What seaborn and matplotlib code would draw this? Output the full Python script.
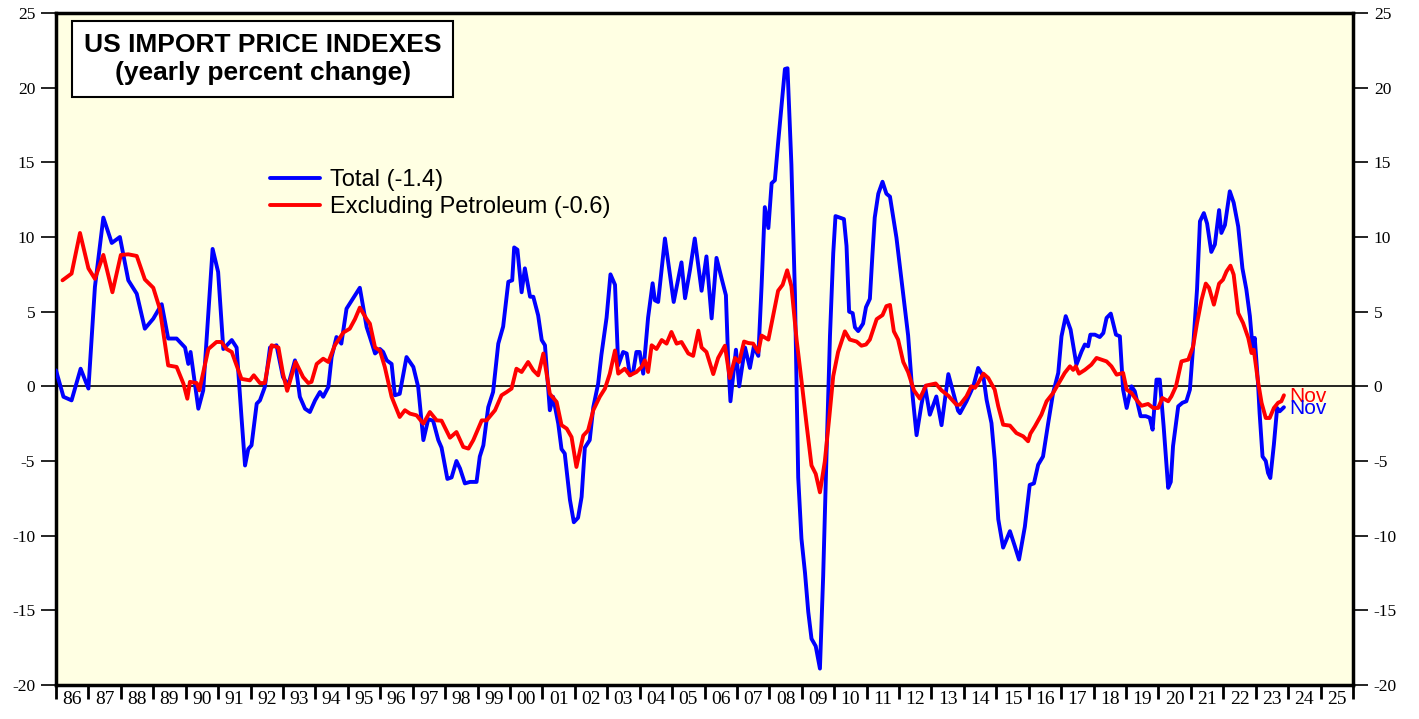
"""
plot.py - US import price indexes, yearly percent change.
"""

import numpy as np
import pandas as pd
import matplotlib

matplotlib.use("Agg")  # non-interactive backend
import matplotlib.pyplot as plt
import seaborn as sns

# ─────────────────────────────────────────────────────────────────────────────
# Data (decimal years)
# ─────────────────────────────────────────────────────────────────────────────

total_x = [
    1986.0, 1986.23, 1986.48, 1986.76, 1987.0, 1987.2, 1987.46, 1987.72, 1987.97,
    1988.23, 1988.49, 1988.74, 1989.0, 1989.26, 1989.46, 1989.72, 1989.98, 1990.08,
    1990.15, 1990.39, 1990.54, 1990.83, 1991.0, 1991.16, 1991.42, 1991.57, 1991.72,
    1991.83, 1991.93, 1992.03, 1992.19, 1992.29, 1992.44, 1992.6, 1992.8, 1993.0,
    1993.16, 1993.37, 1993.52, 1993.68, 1993.83, 1993.99, 1994.14, 1994.24, 1994.4,
    1994.5, 1994.65, 1994.8, 1994.96, 1995.37, 1995.58, 1995.68,
    1995.84, 1995.99, 1996.09, 1996.2, 1996.35, 1996.45, 1996.6, 1996.81, 1997.02,
    1997.17, 1997.33, 1997.48, 1997.63, 1997.79, 1997.89, 1998.07, 1998.2, 1998.35,
    1998.46, 1998.61, 1998.77, 1998.97, 1999.07, 1999.18, 1999.33, 1999.48, 1999.64,
    1999.79, 1999.95, 2000.07, 2000.13, 2000.23, 2000.36, 2000.46, 2000.62, 2000.72,
    2000.87, 2000.98, 2001.08, 2001.23, 2001.33, 2001.49, 2001.59, 2001.69, 2001.85,
    2001.97, 2002.1, 2002.21, 2002.31, 2002.46, 2002.57, 2002.72, 2002.82, 2002.98,
    2003.1, 2003.24, 2003.34, 2003.49, 2003.6, 2003.7, 2003.8, 2003.9, 2004.0,
    2004.11, 2004.26, 2004.4, 2004.47, 2004.57, 2004.78, 2005.05, 2005.29, 2005.4,
    2005.55, 2005.7, 2005.91, 2006.06, 2006.22, 2006.37, 2006.53, 2006.66, 2006.73,
    2006.8, 2006.97, 2007.07, 2007.25, 2007.4, 2007.52, 2007.66, 2007.76, 2007.86,
    2007.97, 2008.07, 2008.17, 2008.27, 2008.38, 2008.48, 2008.56, 2008.68, 2008.79,
    2008.89, 2008.99, 2009.1, 2009.2, 2009.3, 2009.43, 2009.56, 2009.66, 2009.76,
    2009.87, 2009.97, 2010.04, 2010.17, 2010.3, 2010.38, 2010.46, 2010.57, 2010.64,
    2010.74, 2010.89, 2010.98, 2011.1, 2011.18, 2011.25, 2011.36, 2011.49, 2011.61,
    2011.72, 2011.92, 2012.13, 2012.28, 2012.42, 2012.54, 2012.69, 2012.8, 2012.95,
    2013.15, 2013.31, 2013.52, 2013.67, 2013.82,
    2013.88, 2014.08, 2014.29, 2014.44, 2014.6, 2014.7, 2014.85, 2014.95, 2015.06,
    2015.21, 2015.42, 2015.57, 2015.7, 2015.88, 2016.03, 2016.16, 2016.29, 2016.44,
    2016.6, 2016.75, 2016.91, 2017.01, 2017.14, 2017.29, 2017.47, 2017.63, 2017.73,
    2017.83, 2017.9, 2018.04, 2018.19, 2018.3, 2018.4, 2018.53, 2018.69, 2018.81,
    2018.91, 2019.02, 2019.17, 2019.27, 2019.45, 2019.61, 2019.73, 2019.82, 2019.94,
    2020.04, 2020.16, 2020.3, 2020.38, 2020.45, 2020.61, 2020.74, 2020.86, 2020.97,
    2021.07, 2021.19, 2021.28, 2021.4, 2021.5, 2021.63, 2021.74, 2021.87, 2021.94,
    2022.05, 2022.2, 2022.32, 2022.46, 2022.59, 2022.71, 2022.82, 2022.9, 2022.97,
    2023.07, 2023.12, 2023.21, 2023.31, 2023.38, 2023.45, 2023.56, 2023.66, 2023.74,
    2023.87,
]
total_y = [
    1.07, -0.7, -0.94, 1.18, -0.15, 6.65, 11.3, 9.6, 10.0,
    7.1, 6.2, 3.86, 4.53, 5.5, 3.2, 3.2, 2.6, 1.5,
    2.3, -1.5, -0.27, 9.2, 7.66, 2.5, 3.1, 2.6, -2.05,
    -5.3, -4.2, -3.95, -1.16, -0.94, -0.05, 2.6, 2.75, 0.62,
    0.07, 1.74, -0.7, -1.5, -1.72, -0.94, -0.38, -0.7, -0.04,
    1.96, 3.3, 2.86, 5.2, 6.6, 3.97, 3.3,
    2.2, 2.5, 2.3, 1.74, 1.5, -0.6, -0.5, 1.96, 1.3,
    -0.04, -3.6, -2.2, -2.3, -3.6, -4.1, -6.2, -6.1, -5.0,
    -5.5, -6.5, -6.4, -6.4, -4.7, -3.95, -1.4, -0.38, 2.86,
    4.0, 7.0, 7.1, 9.3, 9.15, 6.3, 7.9, 6.0, 6.0,
    4.75, 3.1, 2.75, -1.6, -0.7, -2.5, -4.2, -4.5, -7.6,
    -9.1, -8.8, -7.4, -4.1, -3.6, -1.4, 0.18, 2.1, 4.6,
    7.5, 6.8, 1.4, 2.3, 2.2, 0.74, 0.96, 2.3, 2.3,
    0.85, 4.6, 6.9, 5.76, 5.65, 9.9, 5.65, 8.3, 5.9,
    7.77, 9.9, 6.4, 8.7, 4.55, 8.6, 7.2, 6.1, 1.77,
    -1.0, 2.45, 0.0, 2.6, 1.23, 2.65, 2.04, 6.7, 12.0,
    10.6, 13.6, 13.8, 16.3, 18.9, 21.25, 21.3, 14.85, 6.1,
    -6.1, -10.2, -12.5, -15.1, -16.9, -17.4, -18.9, -12.7, -4.8,
    3.4, 8.9, 11.4, 11.3, 11.2, 9.4, 5.0, 4.9, 3.95,
    3.7, 4.2, 5.3, 5.86, 8.86, 11.3, 12.9, 13.7, 12.9,
    12.7, 9.95, 6.1, 3.4, -0.68, -3.27, -1.23, 0.0, -1.9,
    -0.68, -2.6, 0.82, -0.4, -1.63,
    -1.8, -1.0, 0.0, 1.23, 0.67, -0.9, -2.46, -4.9, -8.9,
    -10.8, -9.7, -10.7, -11.6, -9.4, -6.6, -6.5, -5.25, -4.7,
    -2.46, -0.45, 0.9, 3.35, 4.7, 3.8, 1.45, 2.34, 2.8,
    2.68, 3.46, 3.46, 3.3, 3.57, 4.58, 4.87, 3.46, 3.35,
    -0.22, -1.45, 0.0, -0.33, -2.0, -2.0, -2.1, -2.9, 0.45,
    0.45, -2.68, -6.8, -6.4, -4.0, -1.34, -1.1, -1.0, -0.22,
    2.68, 6.5, 11.05, 11.6, 10.9, 9.0, 9.5, 11.8, 10.27,
    10.8, 13.06, 12.3, 10.7, 7.9, 6.5, 4.7, 2.68, 3.24,
    0.22, -1.8, -4.7, -5.0, -5.8, -6.14, -3.9, -1.45, -1.67,
    -1.4,
]

exlp_x = [
    1986.2, 1986.48, 1986.74, 1987.0, 1987.2, 1987.46, 1987.74, 1988.0, 1988.23,
    1988.49, 1988.74, 1989.0, 1989.2, 1989.46, 1989.72, 1989.93, 1990.05, 1990.13,
    1990.34, 1990.42, 1990.7, 1990.95, 1991.1, 1991.26, 1991.42, 1991.72, 1991.98,
    1992.1, 1992.29, 1992.44, 1992.65, 1992.86, 1993.0, 1993.13, 1993.39, 1993.62,
    1993.78, 1993.88, 1994.04, 1994.24, 1994.4, 1994.6, 1994.86, 1995.06, 1995.22,
    1995.37, 1995.58,
    1995.68, 1995.84, 1995.99, 1996.14, 1996.35, 1996.6, 1996.76, 1996.92, 1997.12,
    1997.33, 1997.53, 1997.74, 1997.89, 1998.15, 1998.35, 1998.56, 1998.72, 1998.87,
    1999.13, 1999.28, 1999.54, 1999.74, 1999.9, 2000.05, 2000.2, 2000.36, 2000.56,
    2000.72, 2000.87, 2001.03, 2001.23, 2001.44, 2001.59, 2001.75, 2001.9, 2002.05,
    2002.26, 2002.41, 2002.57, 2002.77, 2002.93, 2003.08, 2003.24, 2003.34, 2003.54,
    2003.7, 2003.9, 2004.06, 2004.16, 2004.26, 2004.37, 2004.52, 2004.68, 2004.83,
    2004.98, 2005.14, 2005.29, 2005.5,
    2005.65, 2005.81, 2005.91, 2006.06, 2006.27, 2006.42, 2006.63, 2006.78, 2006.94,
    2007.07, 2007.22, 2007.35, 2007.5, 2007.66, 2007.76, 2007.97, 2008.12, 2008.27,
    2008.41, 2008.55, 2008.68, 2008.84, 2008.99, 2009.15, 2009.3, 2009.43, 2009.56,
    2009.71, 2009.85, 2009.97, 2010.12, 2010.33, 2010.48, 2010.69, 2010.84, 2010.98,
    2011.1, 2011.31, 2011.49, 2011.61, 2011.72, 2011.84, 2011.97, 2012.13, 2012.28,
    2012.46, 2012.64, 2012.83, 2013.13, 2013.31, 2013.52, 2013.77,
    2013.88, 2014.08, 2014.23, 2014.34, 2014.44, 2014.6, 2014.75, 2014.95, 2015.06,
    2015.21, 2015.42, 2015.62, 2015.83, 2015.98, 2016.05, 2016.19, 2016.39, 2016.55,
    2016.75, 2016.96, 2017.11, 2017.27, 2017.37, 2017.45, 2017.55, 2017.73, 2017.93,
    2018.09, 2018.24, 2018.4, 2018.55, 2018.71, 2018.91, 2019.02, 2019.17, 2019.32,
    2019.48, 2019.68, 2019.84, 2019.99, 2020.12, 2020.3, 2020.4, 2020.54, 2020.71,
    2020.92, 2021.07, 2021.19, 2021.33, 2021.46, 2021.56, 2021.71, 2021.87, 2021.99,
    2022.1, 2022.22, 2022.32, 2022.46, 2022.61, 2022.77, 2022.87, 2022.94, 2023.07,
    2023.18, 2023.31, 2023.43, 2023.56, 2023.69, 2023.79, 2023.87,
]
exlp_y = [
    7.1, 7.55, 10.27, 7.9, 7.2, 8.8, 6.3, 8.8, 8.84,
    8.73, 7.16, 6.6, 5.2, 1.4, 1.3, 0.18, -0.83, 0.3,
    0.22, -0.27, 2.5, 2.97, 2.97, 2.5, 2.3, 0.5, 0.4,
    0.74, 0.22, 0.22, 2.75, 2.6, 0.85, -0.3, 1.63, 0.62,
    0.22, 0.3, 1.5, 1.85, 1.63, 2.75, 3.6, 3.86, 4.5,
    5.27, 4.5,
    4.2, 2.6, 2.4, 1.3, -0.7, -2.05, -1.6, -1.83, -1.94,
    -2.5, -1.72, -2.28, -2.3, -3.44, -3.06, -4.06, -4.17, -3.6,
    -2.28, -2.28, -1.6, -0.6, -0.38, -0.15, 1.18, 0.96, 1.63,
    1.07, 0.74, 2.2, -0.5, -1.05, -2.6, -2.83, -3.4, -5.4,
    -3.3, -2.95, -1.6, -0.7, -0.15, 0.85, 2.4, 0.85, 1.18,
    0.74, 0.96, 1.3, 1.74, 0.96, 2.75, 2.5, 3.1, 2.86,
    3.64, 2.86, 2.97, 2.2,
    2.04, 3.73, 2.6, 2.3, 0.82, 1.9, 2.72, 0.55, 1.9,
    1.63, 3.0, 2.9, 2.86, 2.3, 3.4, 3.13, 4.77, 6.4,
    6.8, 7.77, 6.7, 3.13, 0.4, -2.6, -5.3, -5.86, -7.1,
    -5.04, -2.04, 0.68, 2.3, 3.68, 3.13, 3.0, 2.72, 2.8,
    3.13, 4.5, 4.77, 5.37, 5.45, 3.68, 3.13, 1.63, 0.95,
    -0.27, -0.82, 0.05, 0.19, -0.27, -0.63, -1.23,
    -1.23, -0.67, 0.0, -0.1, 0.22, 0.85, 0.56, -0.22, -1.34,
    -2.57, -2.63, -3.13, -3.35, -3.68, -3.17, -2.68, -1.9, -1.0,
    -0.45, 0.33, 0.9, 1.34, 1.1, 1.34, 0.85, 1.1, 1.45,
    1.9, 1.79, 1.67, 1.34, 0.78, 0.9, -0.22, -0.45, -0.9,
    -1.3, -1.18, -1.45, -1.45, -0.78, -1.0, -0.67, 0.0, 1.67,
    1.79, 2.68, 4.24, 5.8, 6.88, 6.6, 5.47, 6.88, 7.14,
    7.7, 8.08, 7.48, 4.9, 4.24, 3.24, 2.23, 2.45, 0.33,
    -1.1, -2.12, -2.12, -1.45, -1.1, -1.0, -0.6,
]

year_labels = [f"{y % 100:02d}" for y in range(1986, 2026)]
legend_labels = ["Total (-1.4)", "Excluding Petroleum (-0.6)"]
last_month = "Nov"

BLUE = "#0000FF"
RED = "#FF0000"
PANEL_BG = "#FFFFE3"

# ─────────────────────────────────────────────────────────────────────────────
# Plot
# ─────────────────────────────────────────────────────────────────────────────

sns.set_style("white")
plt.rcParams["font.family"] = ["Liberation Sans", "DejaVu Sans"]
plt.rcParams["axes.unicode_minus"] = False
plt.rcParams["text.color"] = "black"
plt.rcParams["xtick.color"] = "black"
plt.rcParams["ytick.color"] = "black"

fig = plt.figure(figsize=(14.19, 7.19), dpi=100)
ax = fig.add_axes([56 / 1419, 34 / 719, 1297 / 1419, 672 / 719])
ax.set_facecolor(PANEL_BG)

df_total = pd.DataFrame({"date": total_x, "value": total_y})
df_exlp = pd.DataFrame({"date": exlp_x, "value": exlp_y})

ax.axhline(0, color="black", linewidth=1.2, zorder=1)
sns.lineplot(data=df_total, x="date", y="value", ax=ax, color=BLUE,
             linewidth=2.8, label=legend_labels[0], zorder=3)
sns.lineplot(data=df_exlp, x="date", y="value", ax=ax, color=RED,
             linewidth=2.8, label=legend_labels[1], zorder=4)

ax.set_xlim(1986, 2026)
ax.set_ylim(-20, 25)
ax.set_xlabel("")
ax.set_ylabel("")

# frame
for side in ax.spines.values():
    side.set_visible(True)
    side.set_color("black")
    side.set_linewidth(2.5)

# y ticks on both sides
ax.set_yticks(np.arange(-20, 26, 5))
ax.tick_params(axis="y", which="major", left=True, right=True,
               labelleft=True, labelright=True, direction="out",
               length=11, width=1.2, pad=4, labelsize=12.5)

# x ticks: marks at year boundaries, labels centred in each year
ax.set_xticks(np.arange(1986, 2027))
ax.set_xticklabels([])
ax.set_xticks(np.arange(1986, 2026) + 0.5, minor=True)
ax.set_xticklabels(year_labels, minor=True)
ax.tick_params(axis="x", which="major", bottom=True, direction="out",
               length=10, width=2)
ax.tick_params(axis="x", which="minor", bottom=True, length=0, pad=4,
               labelsize=14)

for lab in ax.get_yticklabels() + ax.get_xticklabels(minor=True):
    lab.set_family(["Liberation Serif", "DejaVu Serif"])

# title box
ax.text(0.1595, 0.9315, "US IMPORT PRICE INDEXES\n(yearly percent change)",
        transform=ax.transAxes, ha="center", va="center",
        fontsize=19, fontweight="bold", linespacing=1.18, color="black",
        bbox=dict(boxstyle="square,pad=0.45", facecolor="white",
                  edgecolor="black", linewidth=1.5))

# legend
leg = ax.legend(loc="upper left", bbox_to_anchor=(0.158, 0.782), frameon=False,
                fontsize=17, handlelength=2.1, handletextpad=0.42,
                labelspacing=0.22, borderaxespad=0)
for txt in leg.get_texts():
    txt.set_color("black")

# end-of-series month labels
ax.annotate(last_month, (exlp_x[-1], exlp_y[-1]), xytext=(4, -1),
            textcoords="offset points", color=RED, fontsize=15, va="center")
ax.annotate(last_month, (total_x[-1], total_y[-1]), xytext=(4, -1),
            textcoords="offset points", color=BLUE, fontsize=15, va="center")

fig.savefig("out.png", dpi=100, facecolor="white")
plt.close(fig)
